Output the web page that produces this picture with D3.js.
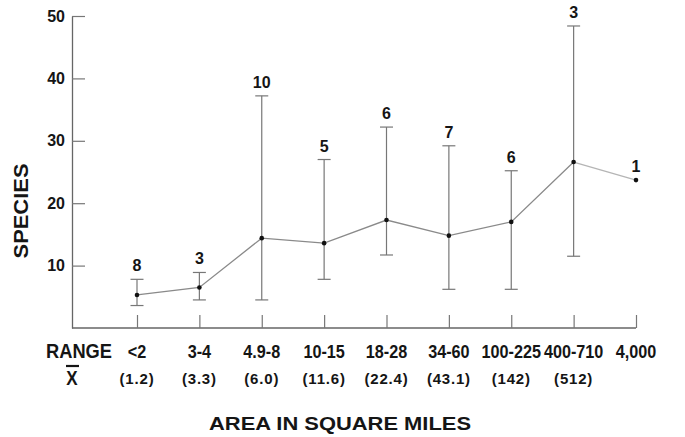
<!DOCTYPE html>
<html lang="en">
<head>
<meta charset="utf-8">
<title>Species vs area</title>
<script src="https://cdn.jsdelivr.net/npm/d3@7"></script>
<style>
  body { margin: 0; background: #fff; }
  svg text { fill: #151515; font-weight: bold; font-family: "Liberation Sans", Arial, sans-serif; }
</style>
</head>
<body>
<div id="chart"></div>
<script>
// data
var ranges = ["<2", "3-4", "4.9-8", "10-15", "18-28", "34-60", "100-225", "400-710", "4,000"];
var means = ["(1.2)", "(3.3)", "(6.0)", "(11.6)", "(22.4)", "(43.1)", "(142)", "(512)", ""];
var counts = [8, 3, 10, 5, 6, 7, 6, 3, 1];
var species = [5.3, 6.5, 14.4, 13.6, 17.3, 14.8, 17.0, 26.6, 23.7];
var upper = [7.8, 8.9, 37.2, 27.0, 32.2, 29.2, 25.2, 48.4, null];
var lower = [3.6, 4.5, 4.5, 7.8, 11.7, 6.2, 6.2, 11.5, null];
var yTicks = [10, 20, 30, 40, 50];

var width = 685, height = 437;
var axisLeftX = 72, axisY = 328;

var svg = d3.select("#chart").append("svg")
    .attr("width", width)
    .attr("height", height);

var x = d3.scalePoint().domain(ranges).range([137, 636]);
var y = d3.scaleLinear().domain([0, 50]).range([axisY, 16]);

var rows = ranges.map(function(r, i) {
  return { range: r, mean: means[i], n: counts[i], v: species[i], hi: upper[i], lo: lower[i] };
});

// squeeze text horizontally, the original type is a condensed gothic
function condense(sel, f) {
  sel.each(function() {
    var w = this.getComputedTextLength();
    d3.select(this).attr("textLength", w * f).attr("lengthAdjust", "spacingAndGlyphs");
  });
}

// y axis, ticks point inward
var yAxis = svg.append("g")
    .attr("transform", "translate(" + axisLeftX + ",0)")
    .call(d3.axisLeft(y).tickValues(yTicks).tickSize(-13).tickSizeOuter(0).tickPadding(7));
yAxis.select(".domain").attr("stroke", "#666").attr("stroke-width", 1.3);
yAxis.selectAll(".tick line").attr("stroke", "#777").attr("stroke-width", 1.2);
yAxis.selectAll(".tick text")
    .attr("font-size", 16)
    .attr("font-family", "Liberation Sans, Arial, sans-serif")
    .attr("fill", "#151515");

// x axis baseline and upward ticks
svg.append("line")
    .attr("x1", axisLeftX).attr("x2", x(ranges[ranges.length - 1]))
    .attr("y1", axisY).attr("y2", axisY)
    .attr("stroke", "#666").attr("stroke-width", 1.3);
var xAxis = svg.append("g")
    .attr("transform", "translate(0," + axisY + ")")
    .call(d3.axisBottom(x).tickSize(-13).tickFormat(""));
xAxis.select(".domain").remove();
xAxis.selectAll(".tick line").attr("stroke", "#777").attr("stroke-width", 1.2);

// error bars
var bars = svg.append("g").selectAll("g")
    .data(rows.filter(function(d) { return d.hi != null; }))
  .enter().append("g")
    .attr("stroke", "#777").attr("stroke-width", 1.2);
bars.append("line")
    .attr("x1", function(d) { return x(d.range); })
    .attr("x2", function(d) { return x(d.range); })
    .attr("y1", function(d) { return y(d.hi); })
    .attr("y2", function(d) { return y(d.lo); });
bars.append("line")
    .attr("x1", function(d) { return x(d.range) - 6.5; })
    .attr("x2", function(d) { return x(d.range) + 6.5; })
    .attr("y1", function(d) { return y(d.hi); })
    .attr("y2", function(d) { return y(d.hi); });
bars.append("line")
    .attr("x1", function(d) { return x(d.range) - 6.5; })
    .attr("x2", function(d) { return x(d.range) + 6.5; })
    .attr("y1", function(d) { return y(d.lo); })
    .attr("y2", function(d) { return y(d.lo); });

// mean line
var line = d3.line()
    .x(function(d) { return x(d.range); })
    .y(function(d) { return y(d.v); });
svg.append("path")
    .datum(rows.slice(0, 8))
    .attr("d", line)
    .attr("fill", "none")
    .attr("stroke", "#8a8a8a")
    .attr("stroke-width", 1.3);
svg.append("path")
    .datum(rows.slice(7))
    .attr("d", line)
    .attr("fill", "none")
    .attr("stroke", "#b5b5b5")
    .attr("stroke-width", 1.3);

svg.append("g").selectAll("circle")
    .data(rows)
  .enter().append("circle")
    .attr("cx", function(d) { return x(d.range); })
    .attr("cy", function(d) { return y(d.v); })
    .attr("r", 2.3)
    .attr("fill", "#111");

// sample sizes above each bar
svg.append("g").selectAll("text")
    .data(rows)
  .enter().append("text")
    .attr("x", function(d) { return x(d.range); })
    .attr("y", function(d) { return y(d.hi != null ? d.hi : d.v) - 8; })
    .attr("text-anchor", "middle")
    .attr("font-size", 16)
    .text(function(d) { return d.n; });

// range and mean labels under the axis
svg.append("text")
    .attr("x", 46).attr("y", 358)
    .attr("font-size", 20)
    .attr("textLength", 66)
    .attr("lengthAdjust", "spacingAndGlyphs")
    .text("RANGE");
svg.append("g").selectAll("text")
    .data(rows)
  .enter().append("text")
    .attr("x", function(d) { return x(d.range); })
    .attr("y", 358)
    .attr("text-anchor", "middle")
    .attr("font-size", 18)
    .text(function(d) { return d.range; })
    .call(condense, 0.9);

svg.append("text")
    .attr("x", 72).attr("y", 385)
    .attr("text-anchor", "middle")
    .attr("font-size", 20)
    .text("X")
    .call(condense, 0.85);
svg.append("line")
    .attr("x1", 66).attr("x2", 79)
    .attr("y1", 366).attr("y2", 366)
    .attr("stroke", "#151515").attr("stroke-width", 2.2);
svg.append("g").selectAll("text")
    .data(rows.filter(function(d) { return d.mean; }))
  .enter().append("text")
    .attr("x", function(d) { return x(d.range); })
    .attr("y", 384)
    .attr("text-anchor", "middle")
    .attr("font-size", 15)
    .attr("letter-spacing", 0.8)
    .text(function(d) { return d.mean; });

// axis titles
svg.append("text")
    .attr("x", 340).attr("y", 430)
    .attr("text-anchor", "middle")
    .attr("font-size", 18)
    .attr("textLength", 262)
    .attr("lengthAdjust", "spacingAndGlyphs")
    .text("AREA IN SQUARE MILES");
svg.append("text")
    .attr("transform", "translate(28,211) rotate(-90)")
    .attr("text-anchor", "middle")
    .attr("font-size", 20)
    .attr("textLength", 95)
    .attr("lengthAdjust", "spacingAndGlyphs")
    .text("SPECIES");
</script>
</body>
</html>
